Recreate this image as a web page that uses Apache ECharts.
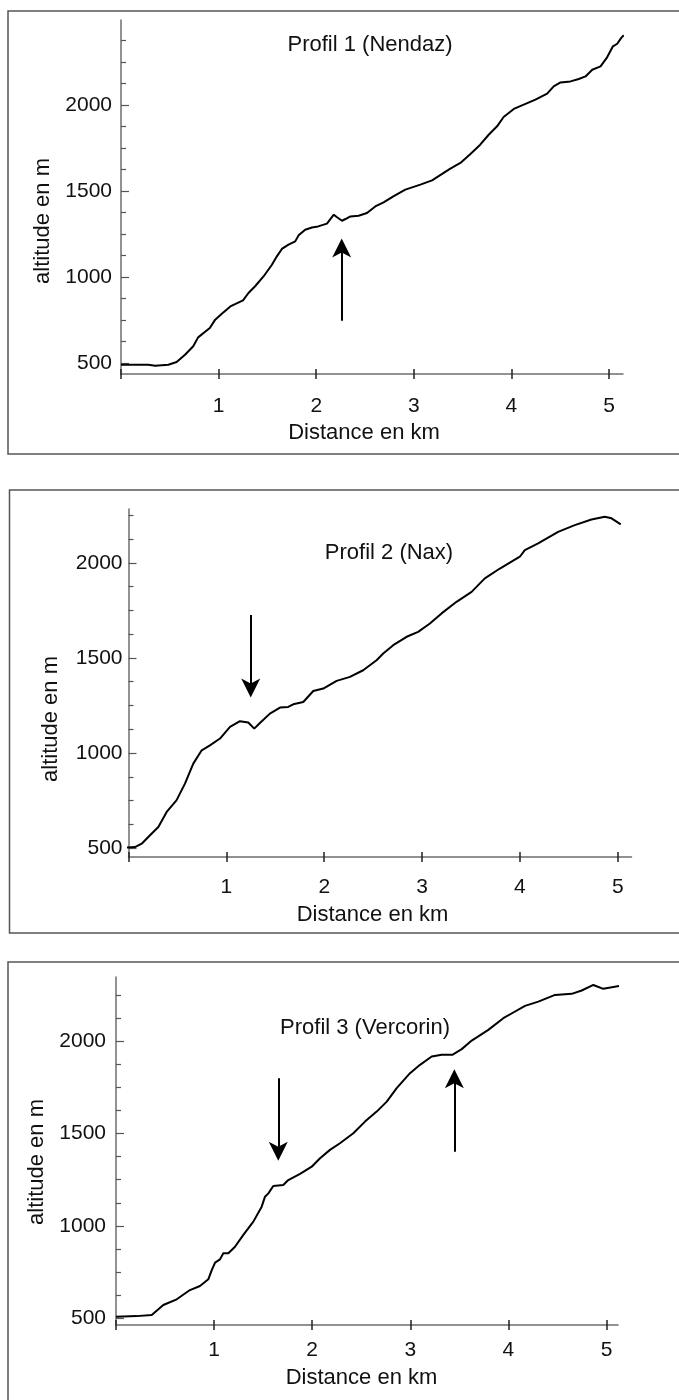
<!DOCTYPE html>
<html><head><meta charset="utf-8">
<script src="https://cdn.jsdelivr.net/npm/echarts@6/dist/echarts.min.js"></script>
<style>html,body{margin:0;padding:0;background:#fff}#c{width:679px;height:1400px}</style>
</head><body><div id="c"></div>
<script>
// ---------- text ----------
const titles = ['Profil 1 (Nendaz)', 'Profil 2 (Nax)', 'Profil 3 (Vercorin)'];
const xAxisName = 'Distance en km';
const yAxisName = 'altitude en m';

// ---------- tick values ----------
const xTickValues = [0, 1, 2, 3, 4, 5];
const xLabelValues = [1, 2, 3, 4, 5];
const yMajorValues = [500, 1000, 1500, 2000];
const yMinorValues = [625, 750, 875, 1125, 1250, 1375, 1625, 1750, 1875, 2125, 2250, 2375];

// ---------- profile 1 (Nendaz) ----------
const p1Km = [0, 0.28, 0.35, 0.485, 0.57, 0.656, 0.74, 0.79, 0.91, 0.965, 1.03, 1.12, 1.25, 1.306, 1.374, 1.46, 1.546, 1.597, 1.648, 1.716, 1.785, 1.82, 1.887, 1.956, 2.02, 2.11, 2.18, 2.21, 2.264, 2.30, 2.35, 2.434, 2.52, 2.605, 2.69, 2.79, 2.913, 3.067, 3.187, 3.29, 3.374, 3.477, 3.58, 3.68, 3.767, 3.853, 3.92, 4.024, 4.126, 4.246, 4.366, 4.433, 4.503, 4.605, 4.69, 4.759, 4.828, 4.913, 4.98, 5.04, 5.084, 5.125, 5.15];
const p1Alt = [490, 490, 484, 490, 506, 548, 597, 649, 703, 752, 785, 829, 864, 907, 946, 1003, 1071, 1120, 1163, 1188, 1207, 1242, 1275, 1288, 1294, 1310, 1362, 1349, 1327, 1337, 1352, 1356, 1372, 1410, 1434, 1469, 1508, 1537, 1562, 1599, 1630, 1663, 1715, 1769, 1827, 1876, 1930, 1977, 2002, 2031, 2066, 2108, 2131, 2137, 2151, 2166, 2205, 2224, 2277, 2341, 2356, 2390, 2405];

// ---------- profile 2 (Nax) ----------
const p2Km = [-0.13, -0.087, 0.066, 0.135, 0.22, 0.305, 0.39, 0.49, 0.577, 0.662, 0.748, 0.832, 0.935, 1.037, 1.139, 1.224, 1.285, 1.343, 1.445, 1.548, 1.632, 1.683, 1.786, 1.888, 1.99, 2.127, 2.263, 2.398, 2.535, 2.603, 2.705, 2.842, 2.96, 3.08, 3.199, 3.352, 3.506, 3.641, 3.795, 3.999, 4.05, 4.186, 4.39, 4.56, 4.731, 4.867, 4.936, 5.03];
const p2Alt = [500, 500, 505, 523, 567, 611, 690, 751, 839, 944, 1014, 1040, 1076, 1137, 1167, 1160, 1128, 1158, 1207, 1239, 1242, 1256, 1268, 1326, 1339, 1379, 1400, 1435, 1488, 1523, 1567, 1611, 1637, 1681, 1734, 1795, 1847, 1918, 1970, 2032, 2067, 2102, 2163, 2198, 2228, 2242, 2234, 2202];

// ---------- profile 3 (Vercorin) ----------
const p3Km = [0, 0.21, 0.364, 0.482, 0.619, 0.754, 0.856, 0.941, 0.976, 1.01, 1.06, 1.094, 1.145, 1.213, 1.298, 1.4, 1.485, 1.519, 1.553, 1.603, 1.705, 1.756, 1.876, 1.995, 2.08, 2.181, 2.283, 2.419, 2.538, 2.657, 2.76, 2.861, 2.997, 3.099, 3.218, 3.32, 3.428, 3.524, 3.626, 3.795, 3.948, 4.05, 4.169, 4.305, 4.475, 4.645, 4.747, 4.866, 4.967, 5.138];
const p3Alt = [509, 512, 518, 572, 603, 653, 675, 711, 761, 801, 819, 852, 852, 887, 951, 1023, 1104, 1158, 1176, 1216, 1221, 1248, 1281, 1320, 1366, 1411, 1447, 1501, 1564, 1618, 1672, 1745, 1826, 1871, 1916, 1925, 1925, 1956, 2002, 2060, 2123, 2154, 2190, 2213, 2249, 2255, 2273, 2303, 2282, 2298];

// ---------- arrows: [km, altitude of tail, altitude of head end] ----------
const p1Arrows = [[2.261, 746, 1168]];
const p2Arrows = [[1.249, 1725, 1342]];
const p3Arrows = [[1.654, 1799, 1404], [3.449, 1401, 1796]];

// ---------- layout ----------
const FONT = '"Liberation Sans", Arial, sans-serif';
const panels = [
  {km: p1Km, alt: p1Alt, arrows: p1Arrows,
   grid: {left: 121, top: 20, width: 502, height: 354}, xr: [0, 5.143], yr: [436, 2494],
   yMargin: 9, xMargin: 22, box: [8, 11, 720, 443], title: [370, 45], xn: [364, 433], yn: [43, 221]},
  {km: p2Km, alt: p2Alt, arrows: p2Arrows,
   grid: {left: 128.5, top: 509, width: 503, height: 348}, xr: [0, 5.14], yr: [453, 2283],
   yMargin: 6, xMargin: 19.5, box: [9.5, 490, 720, 443], title: [389, 553], xn: [372.5, 915], yn: [51, 719]},
  {km: p3Km, alt: p3Alt, arrows: p3Arrows,
   grid: {left: 116, top: 977, width: 502, height: 348}, xr: [0, 5.117], yr: [464, 2346],
   yMargin: 10, xMargin: 15, box: [8, 962, 720, 460], title: [365, 1028], xn: [361.5, 1378], yn: [37, 1162]}
];

const arrowHead = 'path://M0,0 L9,19 L0,14 L-9,19 Z';
const plain = v => String(v);
const grids = [], xAxes = [], yAxes = [], series = [], graphics = [];

panels.forEach((p, i) => {
  grids.push(Object.assign({containLabel: false}, p.grid));
  const base = {gridIndex: i, type: 'value', splitLine: {show: false}};
  xAxes.push(Object.assign({}, base, {
    min: p.xr[0], max: p.xr[1], position: 'bottom',
    axisLine: {show: true, onZero: false, lineStyle: {color: '#6e6e6e', width: 1.5}},
    axisTick: {show: true, inside: false, length: 5, customValues: xTickValues, lineStyle: {color: '#222', width: 1.5}},
    axisLabel: {show: true, customValues: xLabelValues, formatter: plain, margin: p.xMargin, fontSize: 21, fontFamily: FONT, color: '#111'}
  }));
  xAxes.push(Object.assign({}, base, {
    min: p.xr[0], max: p.xr[1], position: 'bottom',
    axisLine: {show: false, onZero: false},
    axisTick: {show: true, inside: true, length: 5, customValues: xTickValues, lineStyle: {color: '#222', width: 1.5}},
    axisLabel: {show: false}
  }));
  yAxes.push(Object.assign({}, base, {
    min: p.yr[0], max: p.yr[1], position: 'left',
    axisLine: {show: true, onZero: false, lineStyle: {color: '#6e6e6e', width: 1.5}},
    axisTick: {show: true, inside: true, length: 8, customValues: yMajorValues, lineStyle: {color: '#555', width: 1.2}},
    axisLabel: {show: true, customValues: yMajorValues, formatter: plain, margin: p.yMargin, fontSize: 21, fontFamily: FONT, color: '#111'}
  }));
  yAxes.push(Object.assign({}, base, {
    min: p.yr[0], max: p.yr[1], position: 'left',
    axisLine: {show: false, onZero: false},
    axisTick: {show: true, inside: true, length: 5, customValues: yMinorValues.filter(v => v < p.yr[1]), lineStyle: {color: '#555', width: 1.2}},
    axisLabel: {show: false}
  }));
  series.push({
    type: 'line', xAxisIndex: 2 * i, yAxisIndex: 2 * i,
    data: p.km.map((k, j) => [k, p.alt[j]]),
    showSymbol: false, symbol: 'none', clip: false, silent: true, animation: false,
    lineStyle: {color: '#000', width: 2},
    markLine: {
      silent: true, animation: false,
      symbol: ['none', arrowHead], symbolSize: 19,
      label: {show: false},
      lineStyle: {color: '#000', width: 2, type: 'solid'},
      emphasis: {disabled: true},
      data: p.arrows.map(a => [{coord: [a[0], a[1]]}, {coord: [a[0], a[2]]}])
    }
  });
  graphics.push({type: 'rect', silent: true, shape: {x: p.box[0], y: p.box[1], width: p.box[2], height: p.box[3]},
    style: {fill: 'none', stroke: '#555', lineWidth: 1.5}});
  const ts = {fontSize: 22, fontFamily: FONT, fill: '#111', align: 'center', verticalAlign: 'middle'};
  graphics.push({type: 'text', silent: true, x: p.title[0], y: p.title[1], style: Object.assign({text: titles[i]}, ts)});
  graphics.push({type: 'text', silent: true, x: p.xn[0], y: p.xn[1], style: Object.assign({text: xAxisName}, ts)});
  graphics.push({type: 'text', silent: true, x: p.yn[0], y: p.yn[1], rotation: Math.PI / 2, style: Object.assign({text: yAxisName}, ts)});
});

const chart = echarts.init(document.getElementById('c'), null, {renderer: 'canvas'});
chart.setOption({
  animation: false,
  backgroundColor: '#fff',
  grid: grids, xAxis: xAxes, yAxis: yAxes, series: series, graphic: graphics
});
</script></body></html>
